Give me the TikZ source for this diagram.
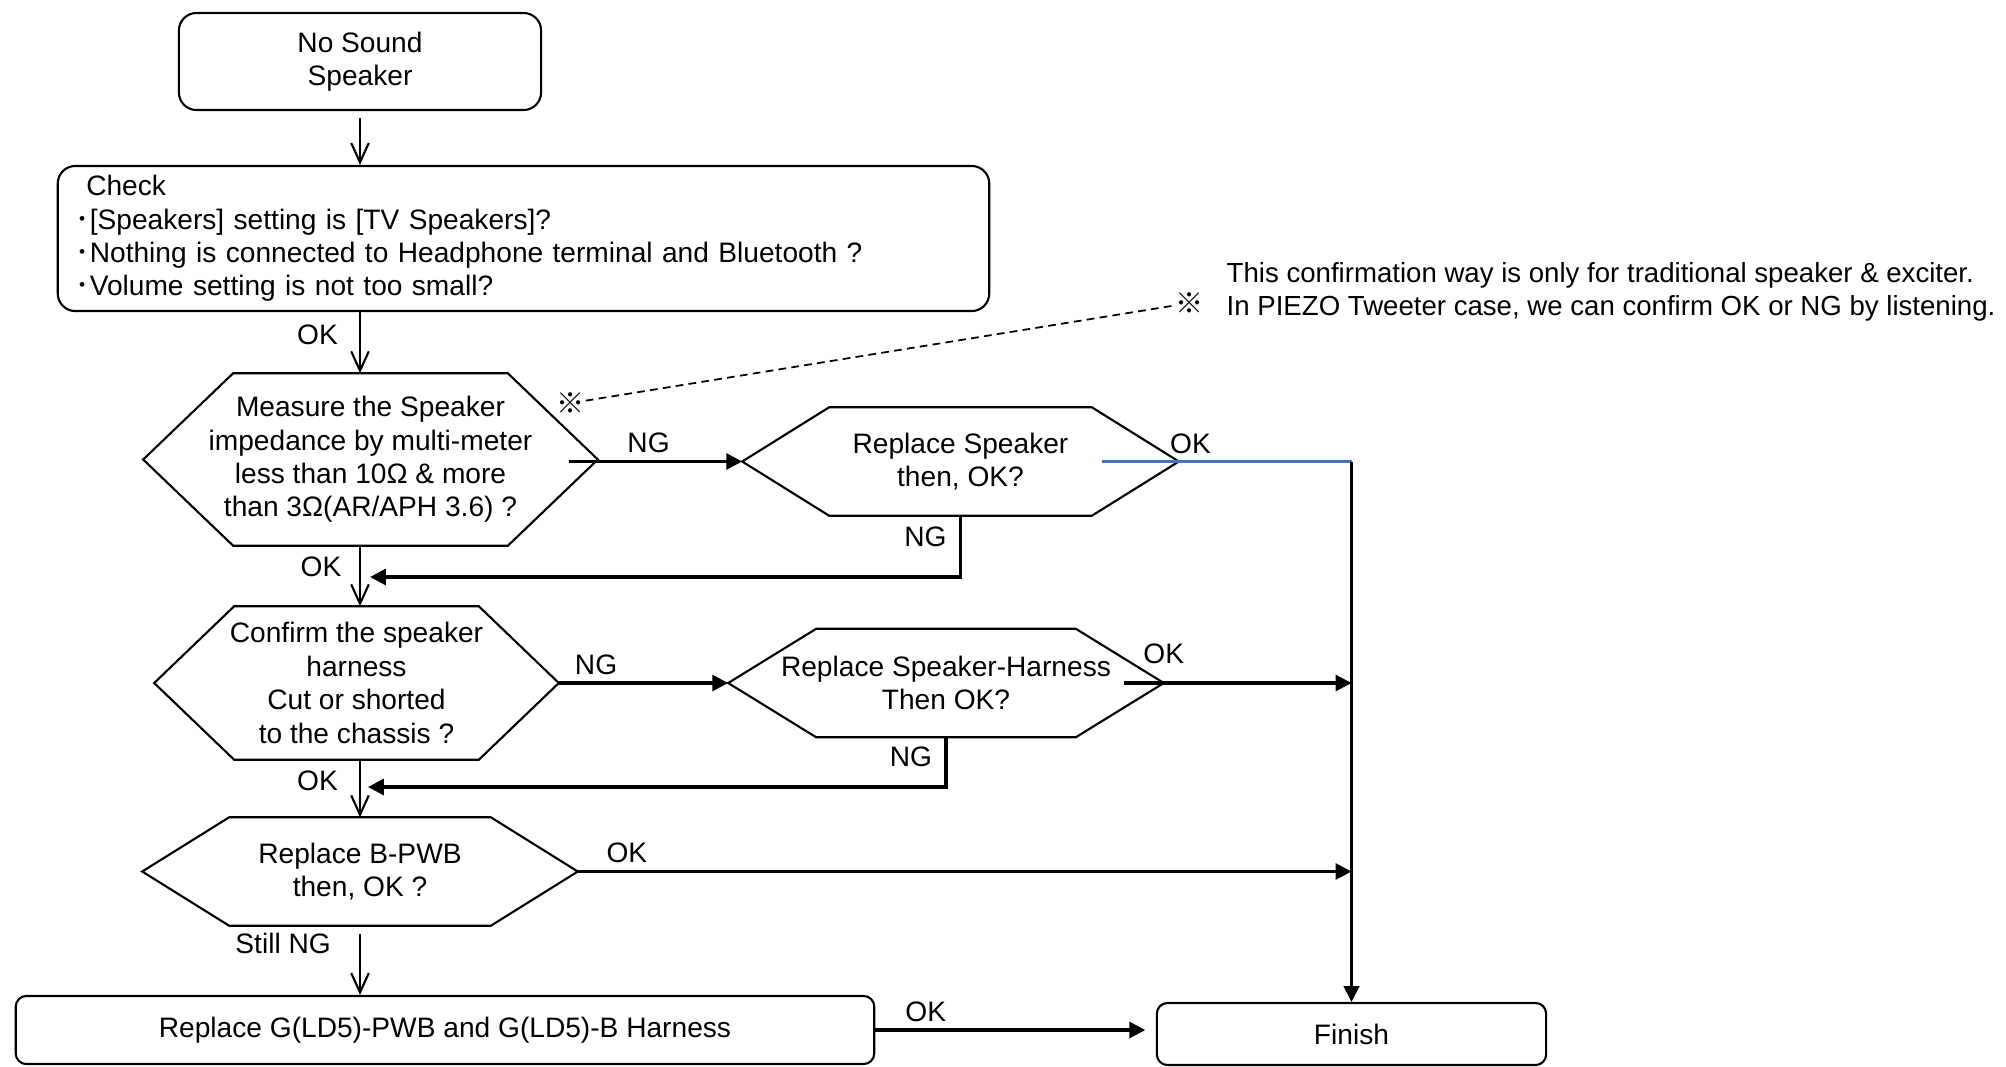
\documentclass[tikz,border=0pt]{standalone}
\usepackage{fontspec}
\setmainfont{Liberation Sans}
\newfontfamily\cjk{Noto Sans CJK JP}
\usetikzlibrary{arrows.meta, calc}
\definecolor{okblue}{RGB}{68,114,196}
\newcommand{\flowfont}{\fontsize{8pt}{9.5pt}\selectfont}
\newcommand{\notefont}{\fontsize{7.85pt}{9.4pt}\selectfont}
\newcommand{\refmark}{{\cjk ※}}
\newcommand{\dotitem}{{\cjk ･}}
\newcommand{\hexagon}[2]{%
  \draw[hexline] (#1.west) -- ($(#1.north west)+(#2,0)$) -- ($(#1.north east)+(-#2,0)$)
    -- (#1.east) -- ($(#1.south east)+(-#2,0)$) -- ($(#1.south west)+(#2,0)$) -- cycle;}
\tikzset{
  startbox/.style = {rectangle, rounded corners=5pt, draw=black, line width=0.6pt,
                     align=center, font=\flowfont, inner sep=0pt},
  endbox/.style   = {rectangle, rounded corners=3pt, draw=black, line width=0.6pt,
                     align=center, font=\flowfont, inner sep=0pt},
  decision/.style = {rectangle, inner sep=0pt, align=center, font=\flowfont},
  hexline/.style  = {draw=black, line width=0.6pt},
  flow/.style     = {-{Straight Barb[length=5.5pt, width=5pt]}, line width=0.6pt},
  branch/.style   = {-{Triangle[length=4.5pt, width=4.5pt]}, line width=0.9pt},
  okline/.style   = {line width=0.6pt, draw=okblue},
  noteline/.style = {dashed, dash pattern=on 2.2pt off 1.5pt, line width=0.5pt},
  lbl/.style      = {font=\flowfont, inner sep=0pt},
}
\begin{document}
\begin{tikzpicture}[x=0.01cm, y=-0.01cm]
  \useasboundingbox (0,0) rectangle (2006,1066);

  \node[startbox, minimum width=3.62cm, minimum height=0.97cm] (start) at (360,61.5) {No Sound\\Speaker};
  \node[startbox, minimum height=1.45cm, text width=8.95cm, inner xsep=0.18cm, align=left] (check) at (523.5,238.5)
    {\hspace{3pt}Check\\\dotitem[Speakers] setting is [TV Speakers]?\\\dotitem Nothing is connected to Headphone terminal and Bluetooth ?\\\dotitem Volume setting is not too small?};
  \node[decision, minimum width=4.53cm, minimum height=1.71cm] (measure) at (370.5,459.5)
    {Measure the Speaker\\impedance by multi-meter\\less than 10Ω \& more\\than 3Ω(AR/APH 3.6) ?};
  \node[decision, minimum width=4.35cm, minimum height=1.07cm] (rspk) at (960.5,461.5) {Replace Speaker\\then, OK?};
  \node[decision, minimum width=4.03cm, minimum height=1.52cm] (harness) at (356.5,683)
    {Confirm the speaker\\harness\\Cut or shorted\\to the chassis ?};
  \node[decision, minimum width=4.34cm, minimum height=1.07cm] (rharness) at (946,683) {Replace Speaker-Harness\\Then OK?};
  \node[decision, minimum width=4.34cm, minimum height=1.07cm] (rpwb) at (360,871.5) {Replace B-PWB\\then, OK ?};
  \node[endbox, minimum width=8.58cm, minimum height=0.68cm] (rgpwb) at (445,1030) {Replace G(LD5)-PWB and G(LD5)-B Harness};
  \node[endbox, minimum width=3.89cm, minimum height=0.62cm] (finish) at (1351.5,1034) {Finish};

  \hexagon{measure}{90}
  \hexagon{rspk}{87}
  \hexagon{harness}{80}
  \hexagon{rharness}{88}
  \hexagon{rpwb}{87}

  \node[lbl] (mark1) at (571,403) {\refmark};
  \node[lbl] (mark2) at (1190,303) {\refmark};
  \node[lbl, font=\notefont, anchor=west, align=left] (note) at (1226,291.5)
    {This confirmation way is only for traditional speaker \& exciter.\\In PIEZO Tweeter case, we can confirm OK or NG by listening.};
  \draw[noteline] (mark1) -- (mark2);

  \coordinate (spine) at (360,0);
  \coordinate (trunk) at (finish.north |- rspk.east);
  \coordinate (ret1) at (370,577);
  \coordinate (ret2) at (368,787);

  \draw[flow, shorten <=2pt] (start.south) -- (start.south |- check.north);
  \draw[flow] (spine |- check.south) -- node[lbl, left=6pt, pos=0.37] {OK} (spine |- measure.north);
  \draw[flow] (spine |- measure.south) -- node[lbl, left=5pt, pos=0.35] {OK} (spine |- harness.north);
  \draw[flow] (spine |- harness.south) -- node[lbl, left=6pt, pos=0.37] {OK} (spine |- rpwb.north);
  \draw[flow, shorten <=2.3pt] (spine |- rpwb.south) -- node[lbl, left=8pt, pos=0.26] {Still NG} (spine |- rgpwb.north);

  \draw[branch] ($(measure.east |- rspk.west)+(-29,0)$) -- node[lbl, above=2pt, pos=0.46] {NG} (rspk.west);
  \draw[okline] ($(rspk.east)+(-77,0)$) -- node[lbl, above=2pt, pos=0.355] {OK} (trunk);
  \draw[line width=0.6pt, -{Triangle[length=4.5pt, width=4.5pt]}] (trunk) -- (finish.north);
  \draw[branch] (rspk.south) -- node[lbl, left=3.5pt, pos=0.35] {NG} (rspk.south |- ret1) -- (ret1);

  \draw[branch] (harness.east) -- node[lbl, above=2pt, pos=0.22] {NG} (rharness.west);
  \draw[branch] ($(rharness.east)+(-40,0)$) -- node[lbl, above=5pt, pos=0.175] {OK} (trunk |- rharness.east);
  \draw[branch] (rharness.south) -- node[lbl, left=3.5pt, pos=0.4] {NG} (rharness.south |- ret2) -- (ret2);

  \draw[branch] (rpwb.east) -- node[lbl, above=2pt, pos=0.035, anchor=south west] {OK} (trunk |- rpwb.east);
  \draw[branch, shorten >=3pt] (rgpwb.east) -- node[lbl, above=2pt, pos=0.18] {OK} (finish.west |- rgpwb.east);
\end{tikzpicture}
\end{document}
